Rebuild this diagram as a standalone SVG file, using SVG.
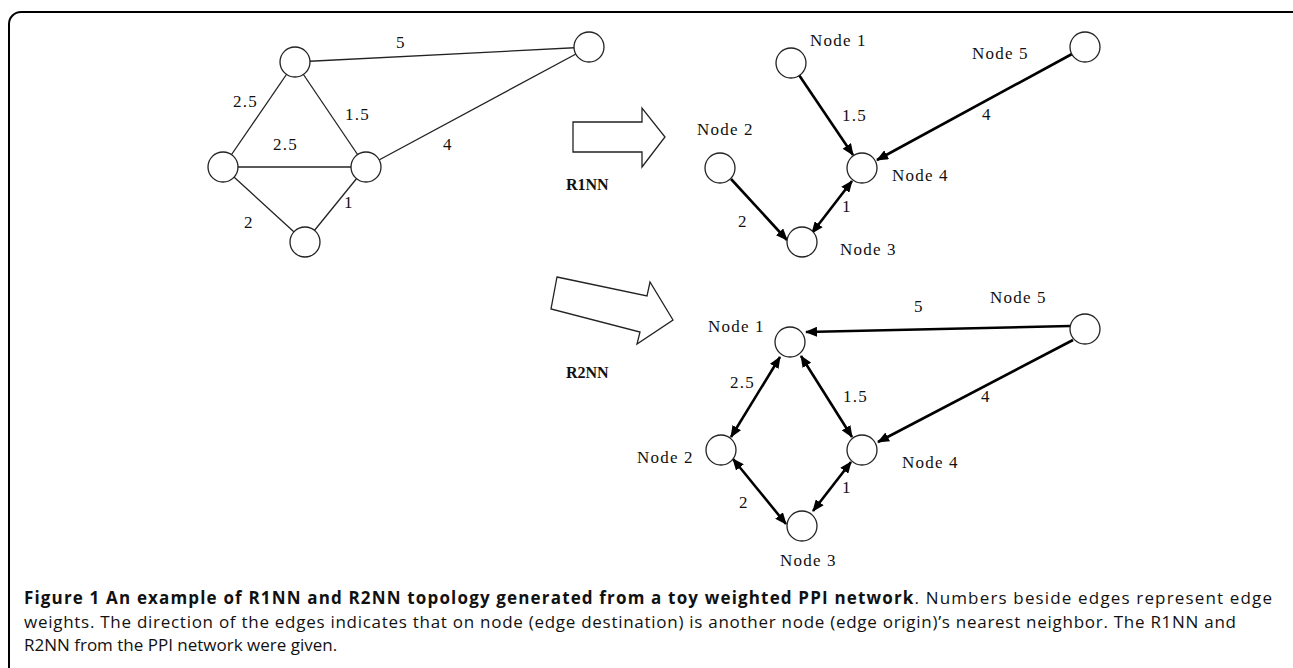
<svg xmlns="http://www.w3.org/2000/svg" width="1293" height="668" viewBox="0 0 1293 668">
<style>
.bg{fill:#fff}
.frame{fill:none;stroke:#000;stroke-width:2}
.nd{fill:#fff;stroke:#222;stroke-width:1.3}
.thin{stroke:#222;stroke-width:1.3;fill:none}
.thick{stroke:#000;stroke-width:2.6;fill:none}
.arr{marker-end:url(#ah)}
.bi{marker-start:url(#ah);marker-end:url(#ah)}
.lbl{font-family:"Liberation Serif","Times New Roman",serif;font-size:17px;letter-spacing:1.2px;fill:#111}
.big{fill:#fff;stroke:#222;stroke-width:1.3}
.rnn{font-family:"Liberation Serif","Times New Roman",serif;font-size:16px;font-weight:bold;fill:#111}
.cap{font-family:"Open Sans","Noto Sans",sans-serif;font-size:17px;fill:#111}
.b{font-weight:bold}
</style>
<defs>
<marker id="ah" viewBox="0 0 12 10" refX="11" refY="5" markerWidth="12" markerHeight="10" orient="auto-start-reverse" markerUnits="userSpaceOnUse">
<path d="M0,0 L12,5 L0,10 z" fill="#000"/>
</marker>
</defs>
<rect class="bg" x="0" y="0" width="1293" height="668"/>
<rect class="frame" x="9" y="12" width="1300" height="700" rx="12"/>

<g id="connectors">
  <!-- left graph -->
  <line class="thin" x1="295" y1="62" x2="589" y2="47"/>
  <line class="thin" x1="295" y1="62" x2="223" y2="167"/>
  <line class="thin" x1="295" y1="62" x2="366" y2="167"/>
  <line class="thin" x1="223" y1="167" x2="366" y2="167"/>
  <line class="thin" x1="223" y1="167" x2="305" y2="242"/>
  <line class="thin" x1="366" y1="167" x2="305" y2="242"/>
  <line class="thin" x1="366" y1="167" x2="589" y2="47"/>
  <!-- R1NN graph -->
  <line class="thick arr" x1="799" y1="75" x2="853" y2="155"/>
  <line class="thick arr" x1="1072" y1="54" x2="877" y2="160"/>
  <line class="thick arr" x1="731" y1="179" x2="787" y2="240"/>
  <line class="thick bi" x1="852" y1="181" x2="812" y2="233"/>
  <!-- R2NN graph -->
  <line class="thick arr" x1="1070" y1="326" x2="806" y2="332"/>
  <line class="thick bi" x1="780" y1="357" x2="731" y2="437"/>
  <line class="thick bi" x1="801" y1="356" x2="852" y2="437"/>
  <line class="thick arr" x1="1073" y1="340" x2="878" y2="442"/>
  <line class="thick bi" x1="733" y1="459" x2="786" y2="524"/>
  <line class="thick bi" x1="851" y1="462" x2="813" y2="511"/>
</g>

<g id="left-graph">
  <g id="L1"><circle class="nd" cx="295" cy="62" r="15"/></g>
  <g id="L5"><circle class="nd" cx="589" cy="47" r="15"/></g>
  <g id="L2"><circle class="nd" cx="223" cy="167" r="15"/></g>
  <g id="L4"><circle class="nd" cx="366" cy="167" r="15"/></g>
  <g id="L3"><circle class="nd" cx="305" cy="242" r="15"/></g>
  <text class="lbl" x="396" y="48">5</text>
  <text class="lbl" x="233" y="107">2.5</text>
  <text class="lbl" x="345" y="120">1.5</text>
  <text class="lbl" x="273" y="150">2.5</text>
  <text class="lbl" x="443" y="150">4</text>
  <text class="lbl" x="244" y="228">2</text>
  <text class="lbl" x="344" y="208">1</text>
</g>

<g id="arrow-r1nn">
  <polygon class="big" points="573,122 642,122 642,108 665,137 642,167 642,152 573,152"/>
  <text class="rnn" x="566" y="190">R1NN</text>
</g>
<g id="arrow-r2nn">
  <polygon class="big" points="557,277 647,296 650,282 673,320 637,344 640,332 551,309"/>
  <text class="rnn" x="566" y="378">R2NN</text>
</g>

<g id="r1nn-graph">
  <g id="a1"><circle class="nd" cx="791" cy="63" r="15"/><text class="lbl" x="810" y="46">Node 1</text></g>
  <g id="a5"><circle class="nd" cx="1085" cy="47" r="15"/><text class="lbl" x="972" y="59">Node 5</text></g>
  <g id="a2"><circle class="nd" cx="720" cy="168" r="15"/><text class="lbl" x="697" y="135">Node 2</text></g>
  <g id="a4"><circle class="nd" cx="862" cy="168" r="15"/><text class="lbl" x="892" y="181">Node 4</text></g>
  <g id="a3"><circle class="nd" cx="802" cy="242" r="15"/><text class="lbl" x="840" y="255">Node 3</text></g>
  <text class="lbl" x="842" y="121">1.5</text>
  <text class="lbl" x="982" y="120">4</text>
  <text class="lbl" x="738" y="227">2</text>
  <text class="lbl" x="842" y="212">1</text>
</g>

<g id="r2nn-graph">
  <g id="b1"><circle class="nd" cx="790" cy="342" r="15"/><text class="lbl" x="708" y="332">Node 1</text></g>
  <g id="b5"><circle class="nd" cx="1085" cy="329" r="15"/><text class="lbl" x="990" y="303">Node 5</text></g>
  <g id="b2"><circle class="nd" cx="721" cy="450" r="15"/><text class="lbl" x="637" y="463">Node 2</text></g>
  <g id="b4"><circle class="nd" cx="862" cy="450" r="15"/><text class="lbl" x="902" y="468">Node 4</text></g>
  <g id="b3"><circle class="nd" cx="802" cy="526" r="15"/><text class="lbl" x="780" y="566">Node 3</text></g>
  <text class="lbl" x="914" y="312">5</text>
  <text class="lbl" x="730" y="388">2.5</text>
  <text class="lbl" x="843" y="402">1.5</text>
  <text class="lbl" x="981" y="402">4</text>
  <text class="lbl" x="739" y="508">2</text>
  <text class="lbl" x="842" y="493">1</text>
</g>

<g id="caption">
  <text class="cap" x="24" y="604" textLength="1248" lengthAdjust="spacing"><tspan class="b">Figure 1 An example of R1NN and R2NN topology generated from a toy weighted PPI network</tspan>. Numbers beside edges represent edge</text>
  <text class="cap" x="24" y="628" textLength="1212" lengthAdjust="spacing">weights. The direction of the edges indicates that on node (edge destination) is another node (edge origin)’s nearest neighbor. The R1NN and</text>
  <text class="cap" x="24" y="651">R2NN from the PPI network were given.</text>
</g>
</svg>
